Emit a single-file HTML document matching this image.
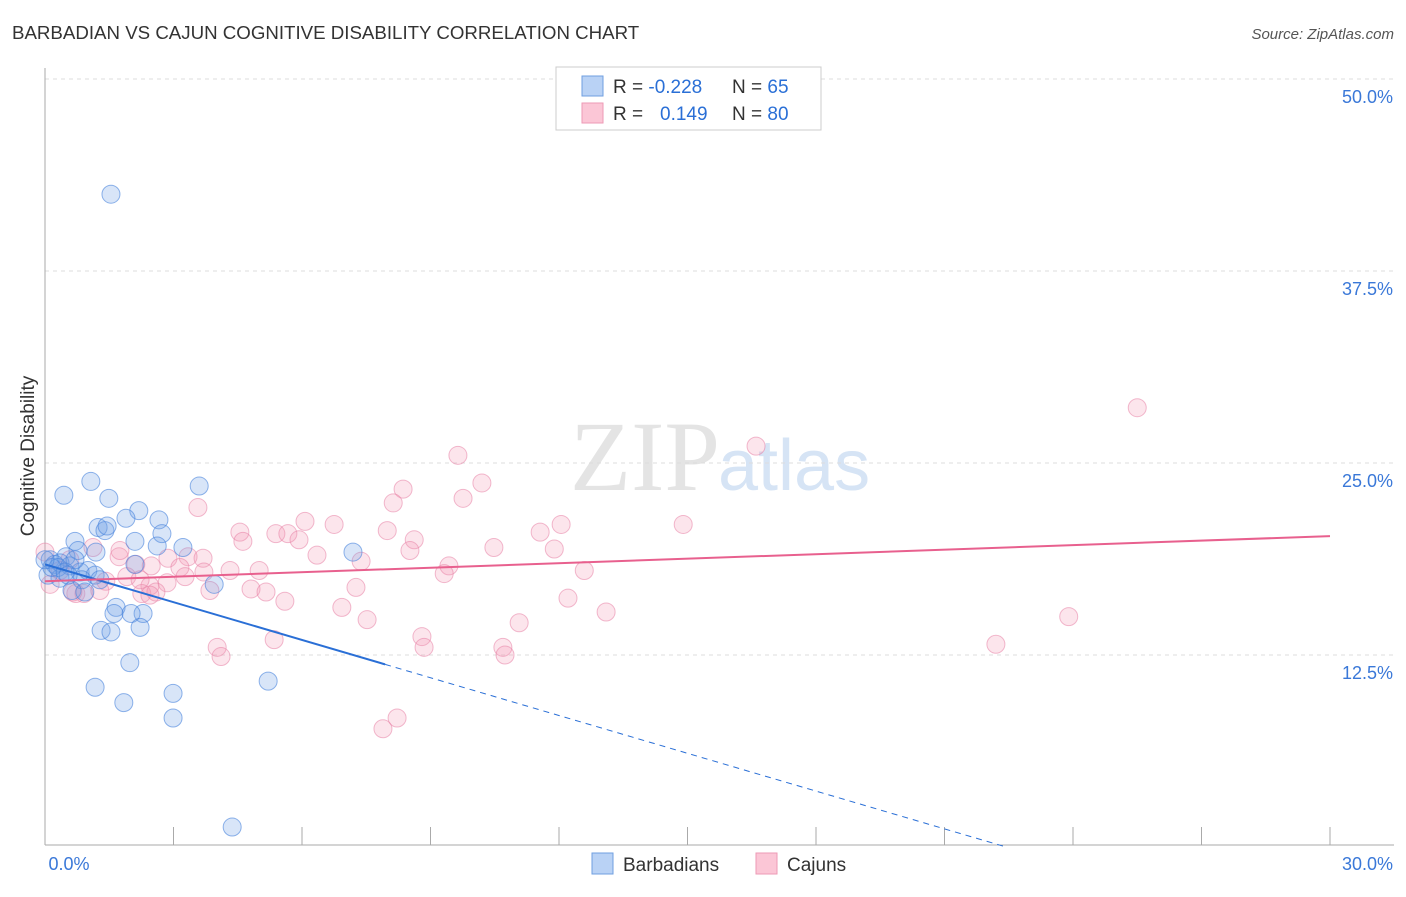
<!DOCTYPE html>
<html><head><meta charset="utf-8"><style>
body{margin:0;background:#fff;font-family:"Liberation Sans",sans-serif}
</style></head><body>
<svg width="1406" height="892" id="svg" xmlns="http://www.w3.org/2000/svg" font-family="Liberation Sans, sans-serif">
<text x="12" y="39" font-size="18.7" fill="#333">BARBADIAN VS CAJUN COGNITIVE DISABILITY CORRELATION CHART</text>
<text x="1394" y="39" font-size="15" fill="#555" font-style="italic" text-anchor="end">Source: ZipAtlas.com</text>
<text x="34" y="456" font-size="19" fill="#333" transform="rotate(-90 34 456)" text-anchor="middle">Cognitive Disability</text>
<text x="720" y="490" font-size="100" fill="#e4e4e4" text-anchor="end" font-family="Liberation Serif, serif">ZIP</text>
<text x="718" y="490" font-size="72" fill="#d6e4f5">atlas</text>
<g id="grid"></g><g id="pts"></g><g id="lines"></g>
<g>
<rect x="556" y="67" width="265" height="63" fill="#fff" stroke="#ccc"/>
<rect x="582" y="76" width="21" height="20" fill="#b9d2f5" stroke="#6f9fe0"/>
<rect x="582" y="103" width="21" height="20" fill="#fbc6d6" stroke="#ee9ab5"/>
<text x="613" y="93" font-size="19" fill="#333">R = <tspan fill="#2a6fd6">-0.228</tspan><tspan x="732">N = </tspan><tspan fill="#2a6fd6">65</tspan></text>
<text x="613" y="120" font-size="19" fill="#333">R = <tspan x="660" fill="#2a6fd6">0.149</tspan><tspan x="732">N = </tspan><tspan fill="#2a6fd6">80</tspan></text>
</g>
<g>
<rect x="592" y="853" width="21" height="21" fill="#b9d2f5" stroke="#6f9fe0"/>
<text x="623" y="871" font-size="19" fill="#333">Barbadians</text>
<rect x="756" y="853" width="21" height="21" fill="#fbc6d6" stroke="#ee9ab5"/>
<text x="787" y="871" font-size="19" fill="#333">Cajuns</text>
</g>
</svg>
<script>
const yTicks=[12.5,25,37.5,50];
const xTickLabels=["0.0%","30.0%"];
const blueX=[1.54,4.37,0.44,1.07,1.49,3.60,2.19,1.89,2.66,1.24,1.40,1.45,2.73,0.70,2.10,2.62,3.22,7.19,1.19,0.77,0.49,0.12,0.23,0.35,0.58,0.82,1.00,2.10,1.17,0.07,0.35,0.86,0.63,0.93,3.95,1.66,1.61,2.29,2.01,1.31,1.54,2.22,1.98,1.17,2.99,5.21,1.84,2.99,0.16,0.30,0.0,0.47,0.70,0.54,1.28];
const blueY=[42.5,1.3,22.9,23.8,22.7,23.5,21.9,21.4,21.3,20.8,20.6,20.9,20.4,19.9,19.9,19.6,19.5,19.2,19.2,19.3,18.9,18.7,18.4,18.5,18.3,17.9,18.0,18.4,17.7,17.7,17.5,17.4,16.7,16.6,17.1,15.6,15.2,15.2,15.2,14.1,14.0,14.3,12.0,10.4,10.0,10.8,9.4,8.4,18.2,18.2,18.7,17.9,18.7,17.7,17.4];
const redX=[25.5,16.6,9.64,10.2,8.36,9.76,8.13,3.57,6.07,6.75,12.05,14.9,4.55,5.39,5.67,7.99,11.56,4.62,8.62,5.93,10.48,11.89,8.52,6.35,7.38,0.0,1.73,1.12,2.12,2.87,3.34,3.69,2.48,3.15,4.32,5.0,9.43,9.32,12.59,1.91,3.27,3.71,1.42,2.85,2.45,7.26,4.81,5.16,2.26,2.59,0.72,0.91,0.65,5.60,6.93,12.21,13.10,7.52,11.07,23.9,8.80,5.35,4.02,8.85,10.69,22.2,4.11,10.74,8.22,7.89,0.12,0.35,1.75,2.45,3.85,1.28,0.58,2.22];
const redY=[28.6,26.1,25.5,23.7,23.3,22.7,22.4,22.1,21.2,21.0,21.0,21.0,20.5,20.4,20.4,20.6,20.5,19.9,20.0,20.0,19.5,19.4,19.3,19.0,18.6,19.2,18.9,19.5,18.4,18.8,18.9,18.8,18.3,18.2,18.0,18.0,18.3,17.8,18.0,17.6,17.6,17.9,17.3,17.2,17.0,16.9,16.8,16.6,16.5,16.6,16.5,16.5,16.6,16.0,15.6,16.2,15.3,14.8,14.6,15.0,13.7,13.5,13.0,13.0,13.0,13.2,12.4,12.5,8.4,7.7,17.1,18.0,19.3,16.4,16.7,16.7,18.7,17.4];
const blueTrend=[18.4,-0.82];
const redTrend=[17.3,0.098];
const X=v=>45+v*1285/30, Y=v=>847-v*768/50;
const NS="http://www.w3.org/2000/svg";
function mk(t,a,p){const e=document.createElementNS(NS,t);for(const k in a)e.setAttribute(k,a[k]);p.appendChild(e);return e;}
const grid=document.getElementById('grid');
yTicks.forEach(t=>{
const l=mk('line',{x1:45,x2:1394,y1:Y(t),y2:Y(t),stroke:'#ddd','stroke-dasharray':'4 4'},grid);


const tx=mk('text',{x:1393,y:Y(t)+24,'font-size':18,fill:'#3a78d8','text-anchor':'end'},grid);tx.textContent=t.toFixed(1)+'%';


});
const ax=mk('line',{x1:45,x2:1394,y1:845,y2:845,stroke:'#aaa'},grid);


const ay=mk('line',{x1:45,x2:45,y1:68,y2:845,stroke:'#aaa'},grid);


for(let i=0;i<=10;i++){const t=mk('line',{x1:X(i*3),x2:X(i*3),y1:827,y2:845,stroke:'#aaa'},grid);

}
[[X(0)+24,'middle',xTickLabels[0]],[1393,'end',xTickLabels[1]]].forEach(([x,a,s])=>{const t=mk('text',{x:x,y:870,'font-size':18,fill:'#3a78d8','text-anchor':a},grid);t.textContent=s;

});
const pts=document.getElementById('pts');
redX.forEach((v,i)=>{const c=mk('circle',{cx:X(v),cy:Y(redY[i]),r:9,fill:'rgba(244,150,180,0.25)',stroke:'rgba(232,130,165,0.55)'},pts);

});
blueX.forEach((v,i)=>{const c=mk('circle',{cx:X(v),cy:Y(blueY[i]),r:9,fill:'rgba(110,160,230,0.27)',stroke:'rgba(70,130,220,0.6)'},pts);

});
const ln=document.getElementById('lines');
const bEnd=7.94, bZero=-blueTrend[0]/blueTrend[1];
const b1=mk('line',{x1:X(0),y1:Y(blueTrend[0]),x2:X(bEnd),y2:Y(blueTrend[0]+blueTrend[1]*bEnd),stroke:'#2a6fd6','stroke-width':2},ln);


const b2=mk('line',{x1:X(bEnd),y1:Y(blueTrend[0]+blueTrend[1]*bEnd),x2:X(bZero),y2:Y(0),stroke:'#2a6fd6','stroke-width':1,'stroke-dasharray':'6 5'},ln);


const r1=mk('line',{x1:X(0),y1:Y(redTrend[0]),x2:X(30),y2:Y(redTrend[0]+redTrend[1]*30),stroke:'#e8608e','stroke-width':2},ln);


</script>
</body></html>
